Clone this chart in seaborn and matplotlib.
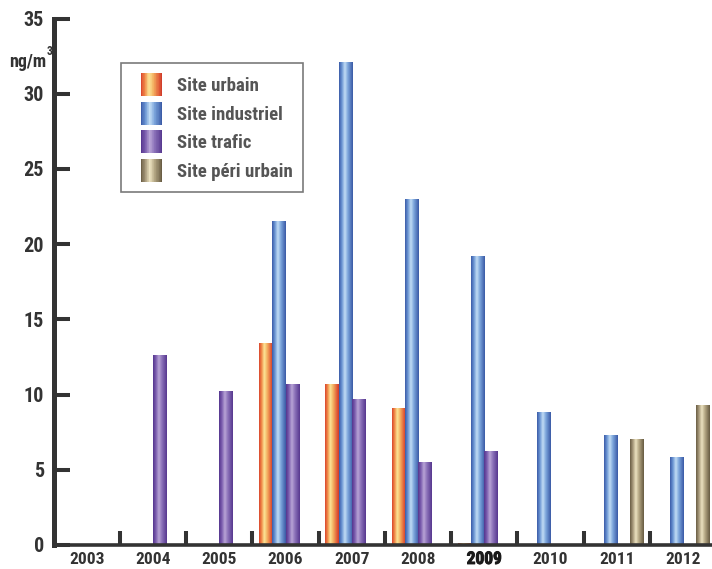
import numpy as np
import pandas as pd
import matplotlib
matplotlib.use("Agg")
import matplotlib.pyplot as plt
import matplotlib.patheffects as pe
import seaborn as sns
from matplotlib.colors import LinearSegmentedColormap
from matplotlib.patches import Rectangle
from matplotlib.legend_handler import HandlerBase
from matplotlib.ticker import FixedLocator
from matplotlib import font_manager

# Annual means (ng/m3) per monitoring site type
years = ["2003", "2004", "2005", "2006", "2007", "2008", "2009", "2010", "2011", "2012"]
sites = ["Site urbain", "Site industriel", "Site trafic", "Site péri urbain"]
urbain = [None, None, None, 13.4, 10.7, 9.1, 0.1, None, None, None]
industriel = [None, None, None, 21.5, 32.1, 23.0, 19.2, 8.8, 7.3, 5.8]
trafic = [None, 12.6, 10.2, 10.7, 9.7, 5.5, 6.2, None, None, None]
peri_urbain = [None, None, None, None, None, None, None, None, 7.0, 9.3]
y_ticks = [0, 5, 10, 15, 20, 25, 30, 35]

series = dict(zip(sites, [urbain, industriel, trafic, peri_urbain]))
rows = [(yr, s, v) for s, vals in series.items() for yr, v in zip(years, vals) if v is not None]
df = pd.DataFrame(rows, columns=["year", "site", "value"])

# Cylinder-like shading for each series (left edge -> highlight -> right edge)
gradients = {
    "Site urbain": [(0, "#d9452e"), (0.18, "#f08a48"), (0.38, "#fce597"),
                    (0.6, "#f3ad5e"), (0.85, "#e2603a"), (1, "#cf3a2a")],
    "Site industriel": [(0, "#3b5ba8"), (0.2, "#6a95d3"), (0.42, "#c2ddf5"),
                        (0.65, "#7aa3da"), (1, "#3a5aa6")],
    "Site trafic": [(0, "#55358e"), (0.2, "#7b5dae"), (0.42, "#b8a4d6"),
                    (0.65, "#8a70b8"), (1, "#57388f")],
    "Site péri urbain": [(0, "#6a5d44"), (0.2, "#a6987a"), (0.42, "#ece2c0"),
                         (0.65, "#b3a683"), (1, "#675b42")],
}
cmaps = {k: LinearSegmentedColormap.from_list(k, v) for k, v in gradients.items()}
solid = {k: v[1][1] for k, v in gradients.items()}

sns.set_theme(style="white")
installed = {f.name for f in font_manager.fontManager.ttflist}
narrow = [n for n in ["Roboto Condensed", "Liberation Sans Narrow", "DejaVu Sans Condensed"]
          if n in installed]
plt.rcParams["font.family"] = narrow + ["DejaVu Sans"]
plt.rcParams["font.stretch"] = "condensed"
plt.rcParams["font.weight"] = "bold"

ink = "#333333"
fig = plt.figure(figsize=(7.12, 5.69), dpi=100)
W, H = 712, 569
x_left, cat_w = 53.75, 66.25
y_zero, y_top = 545, 18.5
ax = fig.add_axes([x_left / W, (H - y_zero) / H, 10 * cat_w / W, (y_zero - y_top) / H])

sns.barplot(data=df, x="year", y="value", hue="site", order=years, hue_order=sites,
            palette=solid, saturation=1, width=0.8, legend=False, ax=ax, errorbar=None)

ramp = np.linspace(0, 1, 64)[np.newaxis, :]
for container, site in zip(ax.containers, sites):
    for bar in container:
        h = bar.get_height()
        if not np.isfinite(h) or h <= 0:
            continue
        x0, w = bar.get_x(), bar.get_width()
        ax.imshow(ramp, cmap=cmaps[site], extent=[x0, x0 + w, 0, h],
                  aspect="auto", interpolation="bilinear", zorder=2)
        bar.set_visible(False)

ax.set_xlim(-0.5, 9.5)
ax.set_ylim(0, 35)
ax.set_xlabel("")
ax.set_ylabel("")

for side in ("top", "right"):
    ax.spines[side].set_visible(False)
ax.spines["left"].set_color(ink)
ax.spines["left"].set_linewidth(3.6)
ax.spines["bottom"].set_color(ink)
ax.spines["bottom"].set_linewidth(2.6)

ax.set_yticks(y_ticks)
ax.set_yticklabels([str(t) for t in y_ticks])
ax.tick_params(axis="y", direction="in", length=11.5, width=2.9, color=ink,
               labelsize=14.5, labelcolor=ink, pad=7, left=True)
ax.xaxis.set_minor_locator(FixedLocator(np.arange(0.5, 9, 1)))
ax.tick_params(axis="x", which="major", length=0, labelsize=12.5, labelcolor=ink, pad=5)
ax.tick_params(axis="x", which="minor", direction="in", length=10, width=2.9,
               color=ink, bottom=True)
for lab in ax.get_xticklabels() + ax.get_yticklabels():
    lab.set_fontweight("bold")
for lab in ax.get_xticklabels():
    if lab.get_text() == "2009":
        lab.set_color("#1a1a1a")
        lab.set_path_effects([pe.withStroke(linewidth=0.7, foreground="#1a1a1a")])

# unit label with raised exponent
fig.text(46 / W, 1 - 67 / H, "ng/m", ha="right", va="baseline", fontsize=13,
         fontweight="bold", color=ink)
fig.text(46.5 / W, 1 - 55 / H, "3", ha="left", va="baseline", fontsize=8.5,
         fontweight="bold", color=ink)


class GradientHandler(HandlerBase):
    def __init__(self, cmap, frac):
        super().__init__()
        self.cmap = cmap
        self.frac = frac

    def create_artists(self, legend, orig_handle, xdescent, ydescent, width, height,
                       fontsize, trans):
        n = 30
        pw = width * self.frac
        x_start = -xdescent + width - pw
        dw = pw / n
        out = []
        for i in range(n):
            c = self.cmap((i + 0.5) / n)
            r = Rectangle((x_start + i * dw, -ydescent), dw * 1.05, height,
                          facecolor=c, edgecolor="none", lw=0, transform=trans)
            out.append(r)
        return out


proxies = [Rectangle((0, 0), 1, 1) for _ in sites]
leg = ax.legend(proxies, sites, loc="upper left",
                bbox_to_anchor=(121 / W, 1 - 63 / H), bbox_transform=fig.transFigure,
                handler_map={p: GradientHandler(cmaps[s], 0.684) for p, s in zip(proxies, sites)},
                fontsize=13.5, handlelength=1.64, handleheight=1.515, labelspacing=0.29,
                handletextpad=0.8, borderpad=0.55, borderaxespad=0, frameon=True,
                fancybox=False, framealpha=1)
leg.get_frame().set_edgecolor("#7a7a7a")
leg.get_frame().set_linewidth(1.2)
for t in leg.get_texts():
    t.set_color("#555555")
    t.set_fontweight("bold")

fig.savefig("out.png", dpi=100)
